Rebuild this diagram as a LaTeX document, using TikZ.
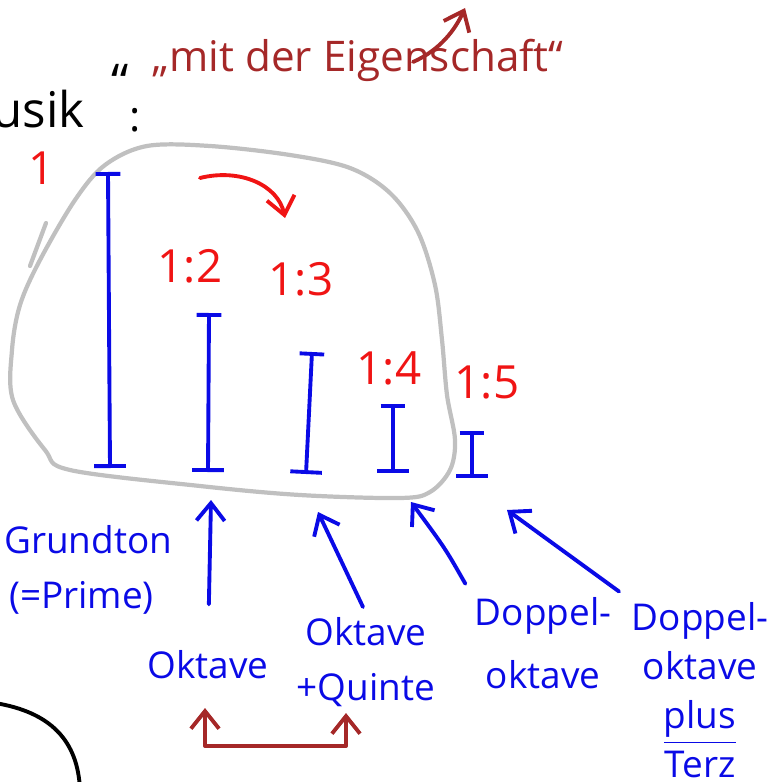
\documentclass[tikz,border=0pt]{standalone}
\usepackage{fontspec}
\setmainfont{Open Sans}
\usetikzlibrary{arrows.meta}
\definecolor{inkred}{RGB}{165,40,40}
\definecolor{ratiored}{RGB}{240,20,20}
\definecolor{penblue}{RGB}{10,10,230}
\definecolor{blobgray}{RGB}{192,192,192}
\begin{document}
\begin{tikzpicture}[x=0.01cm,y=-0.01cm,line cap=round,line join=round,
  note/.style={text=penblue,font=\fontsize{10.5}{14}\selectfont,align=center,inner sep=1pt},
  ratio/.style={text=ratiored,font=\fontsize{13}{15}\selectfont,inner sep=1pt},
  tone/.style={draw=penblue,line width=1.1pt,{Bar[width=7pt]}-{Bar[width=9pt]}},
  pointer/.style={draw=penblue,line width=1.1pt,-{Straight Barb[length=5pt,width=8pt]}},
  redline/.style={draw=inkred,line width=1.1pt}]
\useasboundingbox (0,0) rectangle (771,782);
% heading
\draw (358,60) node[text=inkred,font=\fontsize{12}{15}\selectfont] (t) {„mit der Eigenschaft“};
\draw (97,128) node[anchor=base east,font=\fontsize{14}{16}\selectfont] (m) {Musik};
\draw (120,82) node[font=\fontsize{14}{16}\selectfont] (q) {“};
\draw (135,120) node[font=\fontsize{12}{16}\selectfont] (k) {:};
\coordinate (tt) at (465,8);
\draw[redline,-{Straight Barb[length=5pt,width=8pt]}] (413,62) .. controls (440,50) and (455,30) .. (tt);
% the blob
\draw[blobgray,line width=1.2pt] plot[smooth cycle,tension=0.55] coordinates {
  (147,146) (210,146) (290,155) (350,168) (390,193) (418,232) (435,285)
  (442,340) (447,395) (455,440) (450,470) (430,492) (400,498) (300,495)
  (200,486) (70,470) (45,450) (13,400) (12,350) (20,305) (40,260)
  (75,200) (105,165)};
\draw[blobgray,line width=1.2pt] (46,223) -- (30,266);
% ratios
\draw (42,168) node[ratio] (r1) {1};
\draw (190,266) node[ratio] (r2) {1:2};
\draw (301,279) node[ratio] (r3) {1:3};
\draw (389,368) node[ratio] (r4) {1:4};
\draw (487,383) node[ratio] (r5) {1:5};
\coordinate (bend) at (285,218);
\draw[draw=ratiored,line width=1.1pt,-{Straight Barb[length=5pt,width=8pt]}] (200,178) .. controls (240,168) and (278,185) .. (bend);
% tones
\draw[tone] (108,172) -- (110,468);
\draw[tone] (209,313) -- (208,472);
\draw[tone] (312,352) -- (306,474);
\draw[tone] (393,404) -- (393,473);
\draw[tone] (472,431) -- (472,478);
% names
\draw (0,540) node[note,anchor=west] (g) {Grundton};
\draw (5,598) node[note,anchor=west] (p) {(=Prime)};
\draw (208,665) node[note] (a) {Oktave};
\draw (366,662) node[note,font=\fontsize{10.5}{15.5}\selectfont] (b) {Oktave\\+Quinte};
\draw (543,643) node[note,font=\fontsize{10.5}{18}\selectfont] (c) {Doppel-\\oktave};
\draw (700,690) node[note,font=\fontsize{10.5}{14}\selectfont] (d) {Doppel-\\oktave\\\underline{plus}\\Terz};
\coordinate (ha) at (211,500);
\coordinate (hb) at (318,512);
\coordinate (hc) at (411,502);
\coordinate (hd) at (507,510);
\draw[pointer,shorten <=12pt] (a.north) -- (ha);
\draw[pointer,shorten <=2pt] (b.north) -- (hb);
\draw[pointer,shorten <=3pt] (c.north west) .. controls (445,548) .. (hc);
\draw[pointer,shorten <=3pt] (d.north west) -- (hd);
% octave bracket
\coordinate (u) at (205,708);
\coordinate (v) at (346,713);
\draw[redline,{Straight Barb[length=5pt,width=8pt]}-{Straight Barb[length=5pt,width=8pt]}] (u) -- (205,746) -- (346,746) -- (v);
% cut-off circle
\draw[line width=1.1pt] (-5,703) .. controls (50,712) and (78,740) .. (80,790);
\end{tikzpicture}
\end{document}
